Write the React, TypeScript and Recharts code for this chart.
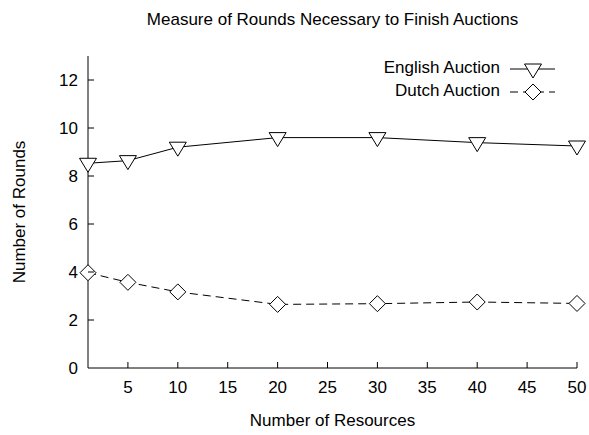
import { LineChart, Line, XAxis, YAxis } from 'recharts';

const resources = [1, 5, 10, 20, 30, 40, 50];
const englishRounds = [8.53, 8.64, 9.2, 9.6, 9.6, 9.39, 9.25];
const dutchRounds = [3.97, 3.57, 3.17, 2.65, 2.68, 2.75, 2.69];
const xTicks = [5, 10, 15, 20, 25, 30, 35, 40, 45, 50];
const yTicks = [0, 2, 4, 6, 8, 10, 12];
const seriesNames = ['English Auction', 'Dutch Auction'];

const data = resources.map((r, i) => ({
  resources: r,
  english: englishRounds[i],
  dutch: dutchRounds[i],
}));

const FONT = '"Liberation Sans", Arial, Helvetica, sans-serif';
const FS = 17;

function TriangleDown({ cx, cy }: any) {
  if (cx == null || cy == null) return null;
  return (
    <path
      d={`M${cx - 8.5},${cy - 5} L${cx + 8.5},${cy - 5} L${cx},${cy + 9} Z`}
      fill="#fff"
      stroke="#000"
      strokeWidth={1}
    />
  );
}

function Diamond({ cx, cy }: any) {
  if (cx == null || cy == null) return null;
  return (
    <path
      d={`M${cx - 8},${cy} L${cx},${cy - 8} L${cx + 8},${cy} L${cx},${cy + 8} Z`}
      fill="#fff"
      stroke="#000"
      strokeWidth={1}
    />
  );
}

// ticks drawn inward, gnuplot style
function BottomTick({ x, y, payload }: any) {
  return (
    <g>
      <line x1={x} y1={y} x2={x} y2={y - 6} stroke="#000" />
      <text x={x} y={y + 25} textAnchor="middle" fontSize={FS} fontFamily={FONT} fill="#000">
        {payload.value}
      </text>
    </g>
  );
}

function TopTick({ x, y }: any) {
  return <line x1={x} y1={y} x2={x} y2={y + 6} stroke="#000" />;
}

function LeftTick({ x, y, payload }: any) {
  return (
    <g>
      {payload.value !== 0 && <line x1={x} y1={y} x2={x + 6} y2={y} stroke="#000" />}
      <text x={x - 10} y={y + 6} textAnchor="end" fontSize={FS} fontFamily={FONT} fill="#000">
        {payload.value}
      </text>
    </g>
  );
}

function RightTick({ x, y, payload }: any) {
  if (payload.value === 0) return null;
  return <line x1={x} y1={y} x2={x - 6} y2={y} stroke="#000" />;
}

function LegendBox() {
  const rows = [
    { label: seriesNames[0], dash: undefined, Marker: TriangleDown },
    { label: seriesNames[1], dash: '8 5', Marker: Diamond },
  ];
  return (
    <svg width={260} height={50} style={{ position: 'absolute', left: 300, top: 56 }}>
      {rows.map((r, i) => {
        const y = 13 + i * 23;
        return (
          <g key={r.label}>
            <text x={200} y={y + 4} textAnchor="end" fontSize={FS} fontFamily={FONT} fill="#000">
              {r.label}
            </text>
            <line x1={210} y1={y} x2={255} y2={y} stroke="#000" strokeDasharray={r.dash} />
            <r.Marker cx={233} cy={y} />
          </g>
        );
      })}
    </svg>
  );
}

export default function App() {
  return (
    <div style={{ position: 'absolute', left: 0, top: 0, width: 589, height: 435, background: '#fff' }}>
      <div
        style={{
          position: 'absolute',
          top: 10,
          left: 38,
          width: 589,
          textAlign: 'center',
          fontFamily: FONT,
          fontSize: FS,
        }}
      >
        Measure of Rounds Necessary to Finish Auctions
      </div>
      <LineChart width={589} height={435} data={data} margin={{ top: 56, right: 12, left: 0, bottom: 0 }}>
        <XAxis
          xAxisId="bottom"
          dataKey="resources"
          type="number"
          domain={[1, 50]}
          ticks={xTicks}
          height={67}
          tickSize={0}
          tickMargin={0}
          tickLine={false}
          axisLine={{ stroke: '#000' }}
          tick={<BottomTick />}
          interval={0}
        />
        <XAxis
          xAxisId="top"
          orientation="top"
          dataKey="resources"
          type="number"
          domain={[1, 50]}
          ticks={xTicks}
          height={0}
          tickSize={0}
          tickMargin={0}
          tickLine={false}
          axisLine={{ stroke: '#000' }}
          tick={<TopTick />}
          interval={0}
        />
        <YAxis
          yAxisId="left"
          type="number"
          domain={[0, 13]}
          ticks={yTicks}
          width={88}
          tickSize={0}
          tickMargin={0}
          tickLine={false}
          axisLine={{ stroke: '#000' }}
          tick={<LeftTick />}
          interval={0}
        />
        <YAxis
          yAxisId="right"
          orientation="right"
          type="number"
          domain={[0, 13]}
          ticks={yTicks}
          width={0}
          tickSize={0}
          tickMargin={0}
          tickLine={false}
          axisLine={{ stroke: '#000' }}
          tick={<RightTick />}
          interval={0}
        />
        <Line
          xAxisId="bottom"
          yAxisId="left"
          dataKey="english"
          name={seriesNames[0]}
          type="linear"
          stroke="#000"
          strokeWidth={1}
          dot={<TriangleDown />}
          activeDot={false}
          isAnimationActive={false}
        />
        <Line
          xAxisId="bottom"
          yAxisId="left"
          dataKey="dutch"
          name={seriesNames[1]}
          type="linear"
          stroke="#000"
          strokeWidth={1}
          strokeDasharray="8 5"
          dot={<Diamond />}
          activeDot={false}
          isAnimationActive={false}
        />
      </LineChart>
      <LegendBox />
      <div
        style={{
          position: 'absolute',
          top: 411,
          left: 88,
          width: 489,
          textAlign: 'center',
          fontFamily: FONT,
          fontSize: FS,
        }}
      >
        Number of Resources
      </div>
      <div
        style={{
          position: 'absolute',
          left: 20,
          top: 212,
          transform: 'translate(-50%, -50%) rotate(-90deg)',
          whiteSpace: 'nowrap',
          fontFamily: FONT,
          fontSize: FS,
        }}
      >
        Number of Rounds
      </div>
    </div>
  );
}
